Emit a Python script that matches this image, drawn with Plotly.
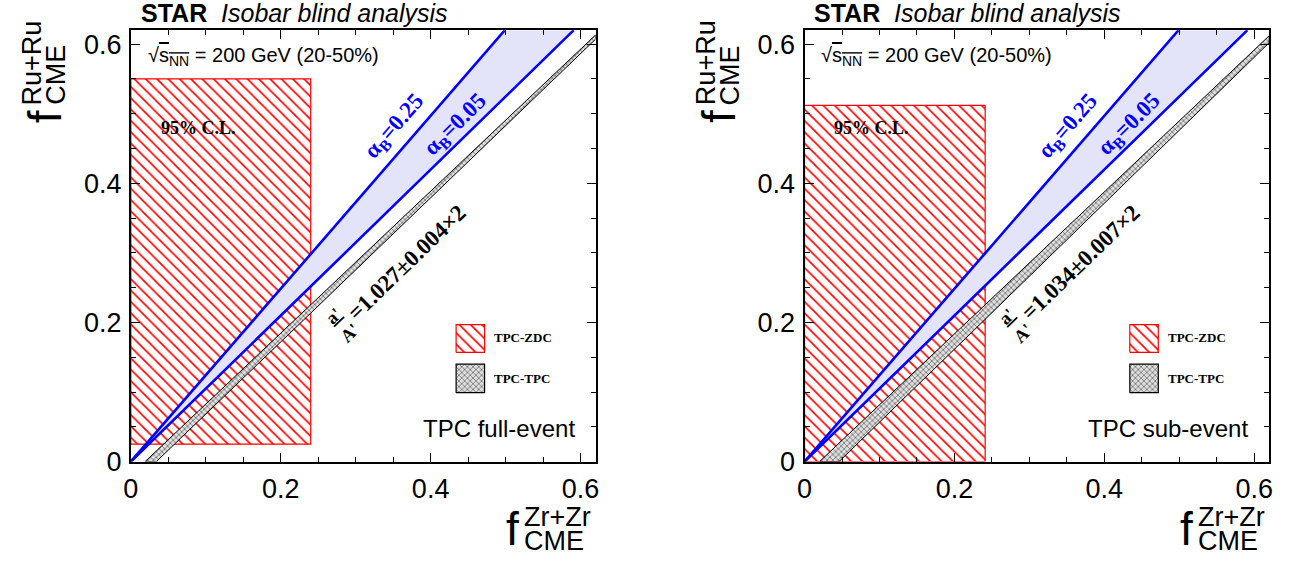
import math
import plotly.graph_objects as go

W, H = 1295, 574

# ---------------- data ----------------
panels = ["TPC full-event", "TPC sub-event"]
ratio_labels = ["=1.027±0.004×2", "=1.034±0.007×2"]

# TPC-ZDC 95% C.L. region
zdc_fzr_max = [0.240, 0.241]
zdc_fru_min = [0.025, 0.0]
zdc_fru_max = [0.550, 0.512]

# alpha_B expectation lines: f_Zr at which each line reaches f_Ru = 0.62
alpha_labels = ["α<sub>B</sub>=0.25", "α<sub>B</sub>=0.05"]
alpha_fzr_at_top = [0.499, 0.591]
alpha_fru_top = 0.62

# TPC-TPC band (a'/A' ± 2σ): f_Zr where each edge hits f_Ru = 0,
# and f_Ru of each edge at f_Zr = 0.62
tpc_fzr_at_zero = [[0.019, 0.034], [0.020, 0.046]]
tpc_fru_at_edge = [[0.613, 0.607], [0.612, 0.602]]
tpc_edge_fzr = 0.62

tick_vals = [0, 0.2, 0.4, 0.6]
tick_text = ["0", "0.2", "0.4", "0.6"]
axis_range = [0, 0.62]

# ---------------- layout constants (page pixels) ----------------
PLOT_L = [124, 804]
PLOT_R = [593, 1273]
PLOT_T, PLOT_B = 31, 474
DX = 680  # pixel offset of right panel

SANS = "Liberation Sans"
SERIF = "Liberation Serif"
BLUE = "#0000ff"
RED = "#ff0000"


def px(x):
    return x / W


def py(y):
    return 1 - y / H


# legend swatch boxes in data units
swatch_x = [0.434, 0.472]
swatch_zdc_y = [0.157, 0.197]
swatch_tpc_y = [0.099, 0.140]

zdc_pattern = dict(shape="\\", fgcolor=RED, bgcolor="white", size=8, solidity=0.2, fgopacity=1)
tpc_pattern = dict(shape="x", fgcolor="#555555", bgcolor="#dedede", size=4, solidity=0.3, fgopacity=1)

fig = go.Figure()

for i in range(2):
    xa = "x" if i == 0 else "x2"
    ya = "y" if i == 0 else "y2"
    # red hatched TPC-ZDC box
    m, lo, hi = zdc_fzr_max[i], zdc_fru_min[i], zdc_fru_max[i]
    fig.add_trace(go.Scatter(
        x=[0, m, m, 0, 0], y=[lo, lo, hi, hi, lo], mode="lines",
        fill="toself", fillcolor="rgba(0,0,0,0)", fillpattern=zdc_pattern,
        line=dict(color=RED, width=1.2), xaxis=xa, yaxis=ya, showlegend=False,
        hoverinfo="skip"))
    # blue alpha_B band
    a0, a1 = alpha_fzr_at_top
    fig.add_trace(go.Scatter(
        x=[0, a0, a1, 0], y=[0, alpha_fru_top, alpha_fru_top, 0], mode="lines",
        fill="toself", fillcolor="#e3e3f9", line=dict(width=0),
        xaxis=xa, yaxis=ya, showlegend=False, hoverinfo="skip"))
    # gray TPC-TPC band
    z0, z1 = tpc_fzr_at_zero[i]
    e0, e1 = tpc_fru_at_edge[i]
    fig.add_trace(go.Scatter(
        x=[z0, tpc_edge_fzr, tpc_edge_fzr, z1, z0], y=[0, e0, e1, 0, 0],
        mode="lines", fill="toself", fillcolor="rgba(0,0,0,0)",
        fillpattern=tpc_pattern, line=dict(color="black", width=1),
        xaxis=xa, yaxis=ya, showlegend=False, hoverinfo="skip"))
    # blue lines
    for a in alpha_fzr_at_top:
        fig.add_trace(go.Scatter(
            x=[0, a], y=[0, alpha_fru_top], mode="lines",
            line=dict(color=BLUE, width=2.6), xaxis=xa, yaxis=ya,
            showlegend=False, hoverinfo="skip"))
    # legend swatches
    sx0, sx1 = swatch_x
    for (sy0, sy1), pat, col in [(swatch_zdc_y, zdc_pattern, RED),
                                 (swatch_tpc_y, tpc_pattern, "black")]:
        fig.add_trace(go.Scatter(
            x=[sx0, sx1, sx1, sx0, sx0], y=[sy0, sy0, sy1, sy1, sy0],
            mode="lines", fill="toself", fillcolor="rgba(0,0,0,0)",
            fillpattern=pat, line=dict(color=col, width=1.2),
            xaxis=xa, yaxis=ya, showlegend=False, hoverinfo="skip"))

annotations = []


def ann(x, y, text, size, family=SANS, color="black", xanchor="center",
        yanchor="middle", angle=0):
    annotations.append(dict(
        x=px(x), y=py(y), xref="paper", yref="paper", text=text,
        showarrow=False, xanchor=xanchor, yanchor=yanchor, textangle=angle,
        borderpad=0, font=dict(family=family, size=size, color=color)))


# direction of the a'/A' label baseline (screen coords, y down)
THETA = math.radians(44)
UX, UY = math.cos(THETA), -math.sin(THETA)
FRAC_START = (328, 342)

for i in range(2):
    d = DX * i
    # header
    ann(133 + d, 13, "<b>STAR</b>  <i>Isobar blind analysis</i>", 25, xanchor="left")
    ann(140 + d, 58, "√<span style='text-decoration:overline'>s<sub>NN</sub></span> = 200 GeV (20-50%)",
        20, xanchor="left")
    ann(192 + d, 131, "<b>95% C.L.</b>", 18, family=SERIF)
    # rotated labels
    ann(390 + d, 130, "<b>" + alpha_labels[0] + "</b>", 23, family=SERIF, color=BLUE, angle=-49)
    ann(452 + d, 128, "<b>" + alpha_labels[1] + "</b>", 23, family=SERIF, color=BLUE, angle=-45)
    # a'/A' fraction and value
    fx = FRAC_START[0] + 12 * UX + d
    fy = FRAC_START[1] + 12 * UY
    ann(fx, fy, "<b><u>a'</u><br>A'</b>", 18, family=SERIF, angle=-44)
    mx = FRAC_START[0] + 104 * UX + d
    my = FRAC_START[1] + 104 * UY
    ann(mx, my, "<b>" + ratio_labels[i] + "</b>", 23, family=SERIF, angle=-44)
    # legend texts
    ann(490 + d, 347, "<b>TPC-ZDC</b>", 13, family=SERIF, xanchor="left")
    ann(490 + d, 389, "<b>TPC-TPC</b>", 13, family=SERIF, xanchor="left")
    # panel label
    ann(573 + d, 440, panels[i], 24, xanchor="right")
    # x-axis title
    ann(517 + d, 543, "f", 46, xanchor="right")
    ann(520 + d, 531, "Zr+Zr", 27, xanchor="left")
    ann(520 + d, 556, "CME", 27, xanchor="left")
    # y-axis title
    ann(37 + d, 112, "f", 46, yanchor="top", angle=-90)
    ann(24 + d, 109, "Ru+Ru", 27, yanchor="bottom", angle=-90)
    ann(49 + d, 109, "CME", 27, yanchor="bottom", angle=-90)

axis_common = dict(
    range=axis_range, tickvals=tick_vals, ticktext=tick_text,
    ticks="inside", ticklen=9, tickwidth=1.2, tickcolor="black",
    showline=True, linecolor="black", linewidth=2, mirror="allticks",
    showgrid=False, zeroline=False, ticklabelstandoff=2,
    tickfont=dict(family=SANS, size=27, color="black"),
    minor=dict(dtick=0.05, tick0=0, ticks="inside", ticklen=5, tickwidth=1.2,
               tickcolor="black", showgrid=False),
)

fig.update_layout(
    width=W, height=H, paper_bgcolor="white", plot_bgcolor="white",
    margin=dict(l=0, r=0, t=0, b=0), showlegend=False,
    xaxis=dict(domain=[px(PLOT_L[0]), px(PLOT_R[0])], anchor="y", **axis_common),
    yaxis=dict(domain=[py(PLOT_B), py(PLOT_T)], anchor="x", **axis_common),
    xaxis2=dict(domain=[px(PLOT_L[1]), px(PLOT_R[1])], anchor="y2", **axis_common),
    yaxis2=dict(domain=[py(PLOT_B), py(PLOT_T)], anchor="x2", **axis_common),
    annotations=annotations,
)

fig.write_html("out.html", config={"displayModeBar": False},
               post_script="document.body.style.margin='0';")
